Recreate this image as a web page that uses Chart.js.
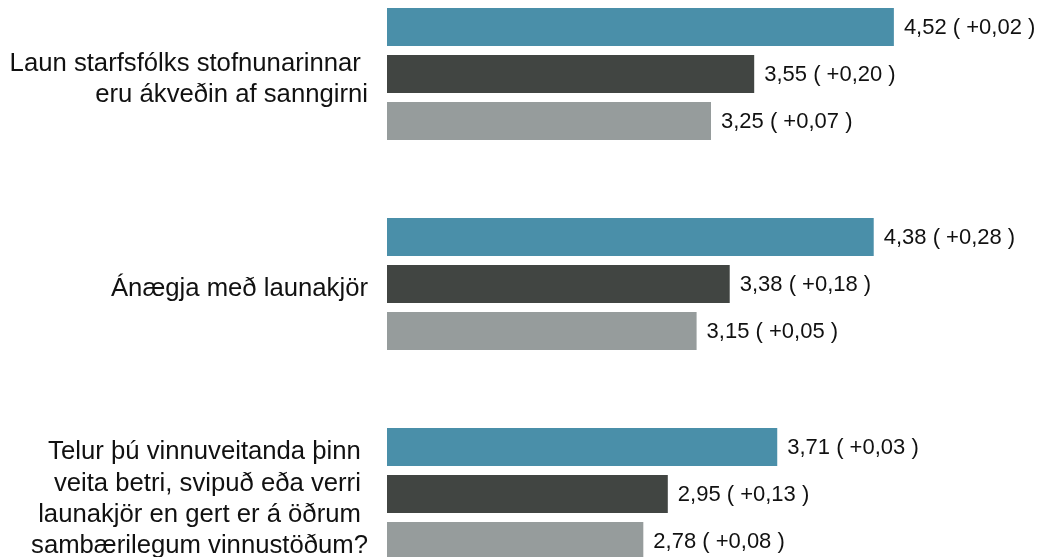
<!DOCTYPE html>
<html>
<head>
<meta charset="utf-8">
<script src="https://cdn.jsdelivr.net/npm/chart.js@4/dist/chart.umd.min.js"></script>
<style>
  html, body { margin: 0; padding: 0; background: #ffffff; overflow: hidden; width: 1052px; height: 557px; }
  #wrap { position: absolute; left: 0; top: -31px; width: 1052px; height: 630px; }
</style>
</head>
<body>
<div id="wrap"><canvas id="c"></canvas></div>
<script>
const categories = [
  ["Laun starfsfólks stofnunarinnar ", "eru ákveðin af sanngirni"],
  ["Ánægja með launakjör"],
  ["Telur þú vinnuveitanda þinn ", "veita betri, svipuð eða verri ", "launakjör en gert er á öðrum ", "sambærilegum vinnustöðum?"]
];
const seriesA = [4.52, 4.38, 3.71];
const changeA = [0.02, 0.28, 0.03];
const seriesB = [3.55, 3.38, 2.95];
const changeB = [0.20, 0.18, 0.13];
const seriesC = [3.25, 3.15, 2.78];
const changeC = [0.07, 0.05, 0.08];
const axisMin = 1;
const axisMax = 5;

function fmt(v) { return v.toFixed(2).replace('.', ','); }

const valueLabels = {
  id: 'valueLabels',
  afterDatasetsDraw(chart) {
    const ctx = chart.ctx;
    ctx.save();
    ctx.font = '22px "Liberation Sans", Arial, sans-serif';
    ctx.fillStyle = '#111111';
    ctx.textAlign = 'left';
    ctx.textBaseline = 'middle';
    chart.data.datasets.forEach((ds, di) => {
      const meta = chart.getDatasetMeta(di);
      meta.data.forEach((el, i) => {
        const txt = fmt(ds.data[i]) + ' ( +' + fmt(ds.changes[i]) + ' )';
        ctx.fillText(txt, el.x + 10, el.y + 1);
      });
    });
    ctx.restore();
  }
};

const shiftLabels = {
  id: 'shiftLabels',
  beforeDraw(chart) {
    const items = chart.scales.y.getLabelItems();
    if (!items._shifted) {
      items.forEach(it => { it.options.translation[1] += 5; });
      items._shifted = true;
    }
  }
};

new Chart(document.getElementById('c'), {
  type: 'bar',
  data: {
    labels: categories,
    datasets: [
      { data: seriesA, changes: changeA, backgroundColor: '#4a8fa9' },
      { data: seriesB, changes: changeB, backgroundColor: '#414542' },
      { data: seriesC, changes: changeC, backgroundColor: '#969c9c' }
    ]
  },
  options: {
    indexAxis: 'y',
    responsive: true,
    maintainAspectRatio: false,
    animation: false,
    barPercentage: 0.81,
    categoryPercentage: 0.671,
    layout: { padding: { left: 0, right: 89, top: 0, bottom: 0 } },
    plugins: { legend: { display: false }, tooltip: { enabled: false } },
    scales: {
      x: { display: false, min: axisMin, max: axisMax },
      y: {
        grid: { display: false, drawTicks: false },
        border: { display: false },
        ticks: {
          padding: 19,
          color: '#111111',
          font: { family: '"Liberation Sans", Arial, sans-serif', size: 25.7, lineHeight: 1.21 }
        },
        afterFit(scale) {
          scale.width = 387;
          scale.paddingTop = 0;
          scale.paddingBottom = 0;
        }
      }
    }
  },
  plugins: [valueLabels, shiftLabels]
});
</script>
</body>
</html>
